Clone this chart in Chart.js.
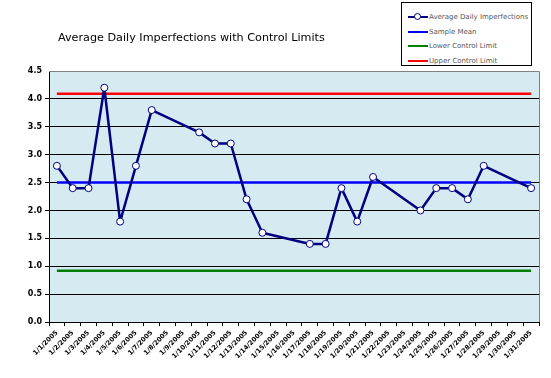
<!DOCTYPE html>
<html>
<head>
<meta charset="utf-8">
<script src="https://cdn.jsdelivr.net/npm/chart.js@4.4.1/dist/chart.umd.min.js"></script>
<style>
  html, body { margin: 0; padding: 0; background: #fff; }
  #wrap { position: relative; width: 551px; height: 378px; }
  #title {
    position: absolute; left: 58px; top: 31px;
    font: 11.2px "DejaVu Sans", sans-serif; color: #000; white-space: nowrap;
  }
  #legend {
    position: absolute; left: 401px; top: 2px; width: 129px; height: 62px;
    border: 1px solid #000; background: #fff;
    font: 7px "DejaVu Sans", sans-serif; color: #555; white-space: nowrap;
  }
  .item { position: absolute; left: 6px; height: 10px; display: flex; align-items: center; }
  .swatch { position: relative; width: 20px; height: 10px; margin-right: 1px; }
  .swatch .ln { position: absolute; left: 0; right: 0; top: 4px; height: 2px; }
  .swatch .mk { position: absolute; left: 6px; top: 1px; width: 7px; height: 7px; border: 1px solid; border-radius: 50%; background: #fff; box-sizing: border-box; }
</style>
</head>
<body>
<div id="wrap">
  <canvas id="chart" width="551" height="378"></canvas>
  <div id="title">Average Daily Imperfections with Control Limits</div>
  <div id="legend"></div>
</div>
<script>
const dates = [
  '1/1/2005', '1/2/2005', '1/3/2005', '1/4/2005', '1/5/2005', '1/6/2005', '1/7/2005', '1/8/2005',
  '1/9/2005', '1/10/2005', '1/11/2005', '1/12/2005', '1/13/2005', '1/14/2005', '1/15/2005', '1/16/2005',
  '1/17/2005', '1/18/2005', '1/19/2005', '1/20/2005', '1/21/2005', '1/22/2005', '1/23/2005', '1/24/2005',
  '1/25/2005', '1/26/2005', '1/27/2005', '1/28/2005', '1/29/2005', '1/30/2005', '1/31/2005'
];
const imperfections = [
  2.8, 2.4, 2.4, 4.2, 1.8, 2.8, 3.8, null,
  null, 3.4, 3.2, 3.2, 2.2, 1.6, null, null,
  1.4, 1.4, 2.4, 1.8, 2.6, null, null, 2.0,
  2.4, 2.4, 2.2, 2.8, null, null, 2.4
];
const sampleMean = 2.50;
const lowerLimit = 0.92;
const upperLimit = 4.09;
const yTicks = [0, 0.5, 1, 1.5, 2, 2.5, 3, 3.5, 4, 4.5];

const plotBg = {
  id: 'plotBg',
  beforeDraw(chart) {
    const a = chart.chartArea, ctx = chart.ctx;
    ctx.save();
    ctx.fillStyle = '#D6EAF2';
    ctx.fillRect(a.left, a.top, a.right - a.left, a.bottom - a.top);
    ctx.restore();
  },
  afterDatasetsDraw(chart) {
    const a = chart.chartArea, ctx = chart.ctx;
    ctx.save();
    ctx.strokeStyle = '#808080';
    ctx.lineWidth = 1;
    ctx.beginPath();
    ctx.moveTo(a.left, a.top + 0.5);
    ctx.lineTo(a.right + 0.5, a.top + 0.5);
    ctx.lineTo(a.right + 0.5, a.bottom);
    ctx.stroke();
    ctx.restore();
  }
};

const chart = new Chart(document.getElementById('chart').getContext('2d'), {
  type: 'line',
  data: {
    labels: dates,
    datasets: [
      {
        label: 'Average Daily Imperfections',
        data: imperfections,
        borderColor: '#000080',
        borderWidth: 2.5,
        borderJoinStyle: 'round',
        pointRadius: 3.5,
        pointBorderWidth: 1,
        pointBackgroundColor: '#fff',
        pointBorderColor: '#000080',
        spanGaps: true,
        tension: 0,
        order: 0
      },
      {
        label: 'Sample Mean',
        data: dates.map(() => sampleMean),
        borderColor: '#0000FF',
        borderWidth: 2.5,
        pointRadius: 0,
        order: 1
      },
      {
        label: 'Lower Control Limit',
        data: dates.map(() => lowerLimit),
        borderColor: '#008000',
        borderWidth: 2.5,
        pointRadius: 0,
        order: 2
      },
      {
        label: 'Upper Control Limit',
        data: dates.map(() => upperLimit),
        borderColor: '#FF0000',
        borderWidth: 2.5,
        pointRadius: 0,
        order: 3
      }
    ]
  },
  options: {
    responsive: false,
    animation: false,
    layout: { padding: { top: 71, right: 12, left: 0, bottom: 0 } },
    plugins: {
      legend: { display: false },
      title: { display: false },
      tooltip: { enabled: false }
    },
    scales: {
      x: {
        offset: true,
        grid: { offset: true, drawOnChartArea: false, color: '#000', tickLength: 4 },
        border: { color: '#000', width: 1 },
        ticks: {
          autoSkip: false, minRotation: 45, maxRotation: 45, padding: 3,
          color: '#000', font: { family: 'DejaVu Sans', size: 6.5, weight: 'bold' }
        },
        afterFit(scale) { scale.height = 56; }
      },
      y: {
        min: 0, max: 4.5,
        afterBuildTicks(scale) { scale.ticks = yTicks.map(v => ({ value: v })); },
        grid: {
          color: ctx => (ctx.tick && ctx.tick.value === 4.5 ? 'rgba(0,0,0,0)' : '#000'),
          lineWidth: 1, tickLength: 4
        },
        border: { color: '#000', width: 1 },
        ticks: {
          padding: 3, color: '#000',
          font: { family: 'DejaVu Sans', size: 8, weight: 'bold' },
          callback: v => v.toFixed(1)
        },
        afterFit(scale) { scale.width = 49; }
      }
    }
  },
  plugins: [plotBg]
});

// legend box built from the datasets
const legend = document.getElementById('legend');
chart.data.datasets.forEach((ds, i) => {
  const item = document.createElement('div');
  item.className = 'item';
  item.style.top = (9 + i * 14.6) + 'px';
  const sw = document.createElement('div');
  sw.className = 'swatch';
  sw.innerHTML = '<div class="ln" style="background:' + ds.borderColor + '"></div>' +
    (ds.pointRadius ? '<div class="mk" style="border-color:' + ds.borderColor + '"></div>' : '');
  item.appendChild(sw);
  item.appendChild(document.createTextNode(ds.label));
  legend.appendChild(item);
});
</script>
</body>
</html>
